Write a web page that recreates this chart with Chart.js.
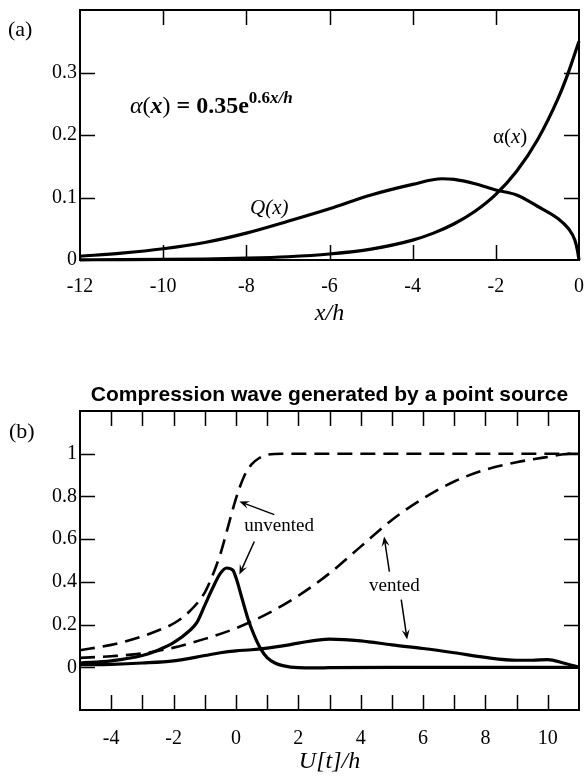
<!DOCTYPE html>
<html>
<head>
<meta charset="utf-8">
<script src="https://cdn.jsdelivr.net/npm/chart.js@4/dist/chart.umd.min.js"></script>
<style>
  body { margin: 0; background: #fff; }
  #wrapA { position: absolute; left: 0; top: 0; width: 584px; height: 330px; }
  #wrapB { position: absolute; left: 0; top: 380px; width: 584px; height: 396px; }
</style>
</head>
<body>
<div id="wrapA"><canvas id="chartA" width="584" height="330"></canvas></div>
<div id="wrapB"><canvas id="chartB" width="584" height="396"></canvas></div>
<script>
// ---- panel (a) data ----
var alphaX = [-12, -11, -10, -9, -8, -7, -6, -5, -4, -3.5, -3, -2.5, -2, -1.5, -1, -0.5, -0.25, 0];
var alphaY = [0.0003, 0.0005, 0.0009, 0.0016, 0.0029, 0.0052, 0.0096, 0.0174, 0.0318, 0.043, 0.058, 0.078, 0.105, 0.142, 0.192, 0.259, 0.301, 0.35];
var qX = [-12, -11, -10, -9, -8, -7, -6, -5, -4, -3.3, -3, -2.5, -2, -1.5, -1, -0.5, -0.25, -0.1, -0.04, 0];
var qY = [0.006, 0.011, 0.018, 0.028, 0.043, 0.062, 0.082, 0.104, 0.121, 0.13, 0.129, 0.122, 0.112, 0.104, 0.086, 0.066, 0.05, 0.032, 0.016, 0];
var xTicksA = [-12, -10, -8, -6, -4, -2, 0];
var yTicksA = [0, 0.1, 0.2, 0.3];

// ---- panel (b) data ----
var unvDashX = [-5, -4, -3, -2.5, -2, -1.5, -1, -0.75, -0.5, -0.25, 0, 0.25, 0.5, 0.75, 1, 1.5, 2, 4, 6, 8, 10, 11];
var unvDashY = [0.08, 0.105, 0.145, 0.172, 0.205, 0.26, 0.35, 0.43, 0.53, 0.66, 0.79, 0.89, 0.95, 0.98, 0.995, 1, 1, 1, 1, 1, 1, 1];
var venDashX = [-5, -4, -3, -2, -1, 0, 1, 2, 3, 4, 5, 6, 7, 8, 9, 10, 10.7, 11];
var venDashY = [0.044, 0.052, 0.065, 0.092, 0.133, 0.183, 0.25, 0.335, 0.44, 0.565, 0.69, 0.79, 0.87, 0.925, 0.96, 0.985, 1, 1];
var unvSolidX = [-5, -4, -3, -2.5, -2, -1.5, -1.25, -1, -0.75, -0.5, -0.3, -0.1, 0, 0.2, 0.4, 0.6, 0.8, 1, 1.25, 1.5, 2, 2.5, 3, 5, 8, 11];
var unvSolidY = [0.02, 0.03, 0.055, 0.08, 0.115, 0.17, 0.21, 0.29, 0.37, 0.44, 0.465, 0.455, 0.42, 0.32, 0.22, 0.145, 0.085, 0.045, 0.02, 0.008, -0.002, -0.003, -0.002, 0, 0, 0];
var venSolidX = [-5, -4, -3, -2, -1, -0.5, 0, 0.5, 1, 1.5, 2, 3, 4, 5, 6, 7, 8, 9, 9.5, 10, 10.5, 11];
var venSolidY = [0.012, 0.014, 0.02, 0.03, 0.055, 0.068, 0.077, 0.082, 0.09, 0.1, 0.113, 0.132, 0.124, 0.105, 0.088, 0.068, 0.046, 0.033, 0.033, 0.036, 0.02, 0];
var xLabelsB = [-4, -2, 0, 2, 4, 6, 8, 10];
var yTicksB = [0, 0.2, 0.4, 0.6, 0.8, 1];

function pts(xs, ys) {
    var out = [];
    for (var i = 0; i < xs.length; i++) out.push({x: xs[i], y: ys[i]});
    return out;
}

function fmt(v) {
    var r = Math.round(v * 10) / 10;
    return String(r);
}

var SERIF = "'Liberation Serif', 'Times New Roman', serif";

// inward ticks on all four sides + frame
var framePlugin = {
    id: 'frame',
    afterDraw: function(chart) {
        var ctx = chart.ctx, a = chart.chartArea;
        var sx = chart.scales.x, sy = chart.scales.y;
        var len = 15;
        ctx.save();
        ctx.strokeStyle = '#000';
        ctx.lineWidth = 1.5;
        ctx.beginPath();
        sx.ticks.forEach(function(t) {
            var px = Math.round(sx.getPixelForValue(t.value)) + 0.5;
            if (px < a.left + 2 || px > a.right - 2) return;
            ctx.moveTo(px, a.bottom); ctx.lineTo(px, a.bottom - len);
            ctx.moveTo(px, a.top); ctx.lineTo(px, a.top + len);
        });
        sy.ticks.forEach(function(t) {
            var py = Math.round(sy.getPixelForValue(t.value)) + 0.5;
            if (py < a.top + 2 || py > a.bottom - 2) return;
            ctx.moveTo(a.left, py); ctx.lineTo(a.left + len, py);
            ctx.moveTo(a.right, py); ctx.lineTo(a.right - len, py);
        });
        ctx.stroke();
        ctx.lineWidth = 2;
        ctx.strokeRect(a.left, a.top, a.right - a.left, a.bottom - a.top);
        ctx.restore();
    }
};

// draws a row of text pieces with different fonts
function richText(ctx, x, y, parts) {
    parts.forEach(function(p) {
        ctx.font = p.font;
        ctx.fillText(p.t, x, y - (p.dy || 0));
        x += ctx.measureText(p.t).width;
    });
}

function arrow(ctx, x1, y1, x2, y2) {
    var ang = Math.atan2(y2 - y1, x2 - x1);
    var hl = 10, hw = 4;
    ctx.beginPath();
    ctx.moveTo(x1, y1);
    ctx.lineTo(x2 - Math.cos(ang) * hl * 0.6, y2 - Math.sin(ang) * hl * 0.6);
    ctx.stroke();
    ctx.beginPath();
    ctx.moveTo(x2, y2);
    ctx.lineTo(x2 - Math.cos(ang) * hl - Math.sin(ang) * hw, y2 - Math.sin(ang) * hl + Math.cos(ang) * hw);
    ctx.lineTo(x2 - Math.cos(ang) * hl * 0.6, y2 - Math.sin(ang) * hl * 0.6);
    ctx.lineTo(x2 - Math.cos(ang) * hl + Math.sin(ang) * hw, y2 - Math.sin(ang) * hl - Math.cos(ang) * hw);
    ctx.closePath();
    ctx.fill();
}

var notesA = {
    id: 'notesA',
    afterDraw: function(chart) {
        var ctx = chart.ctx, sx = chart.scales.x, sy = chart.scales.y, a = chart.chartArea;
        ctx.save();
        ctx.fillStyle = '#000';
        ctx.textBaseline = 'alphabetic';
        ctx.textAlign = 'left';
        richText(ctx, a.left - 72, 36, [{t: '(a)', font: '22px ' + SERIF}]);
        richText(ctx, sx.getPixelForValue(-10.8), sy.getPixelForValue(0.236), [
            {t: '\u03b1', font: 'italic 24px ' + SERIF},
            {t: '(', font: '24px ' + SERIF},
            {t: 'x', font: 'italic bold 24px ' + SERIF},
            {t: ')', font: '24px ' + SERIF},
            {t: ' = 0.35e', font: 'bold 24px ' + SERIF},
            {t: '0.6', font: 'bold 17px ' + SERIF, dy: 10},
            {t: 'x/h', font: 'italic bold 17px ' + SERIF, dy: 10}
        ]);
        richText(ctx, sx.getPixelForValue(-7.91), sy.getPixelForValue(0.074), [
            {t: 'Q(x)', font: 'italic 21px ' + SERIF}
        ]);
        richText(ctx, sx.getPixelForValue(-2.07), sy.getPixelForValue(0.188), [
            {t: '\u03b1(', font: '21px ' + SERIF},
            {t: 'x', font: 'italic 21px ' + SERIF},
            {t: ')', font: '21px ' + SERIF}
        ]);
        ctx.restore();
    }
};

var notesB = {
    id: 'notesB',
    afterDraw: function(chart) {
        var ctx = chart.ctx, sx = chart.scales.x, sy = chart.scales.y, a = chart.chartArea;
        function P(x, y) { return [sx.getPixelForValue(x), sy.getPixelForValue(y)]; }
        ctx.save();
        ctx.fillStyle = '#000';
        ctx.strokeStyle = '#000';
        ctx.lineWidth = 1.5;
        ctx.textAlign = 'center';
        ctx.textBaseline = 'middle';
        ctx.font = "bold 21px 'Liberation Sans', Arial, sans-serif";
        ctx.fillText('Compression wave generated by a point source', (a.left + a.right) / 2, a.top - 16);
        ctx.textAlign = 'left';
        ctx.textBaseline = 'alphabetic';
        richText(ctx, a.left - 71, a.top + 27, [{t: '(b)', font: '22px ' + SERIF}]);
        var p = P(0.27, 0.637);
        richText(ctx, p[0], p[1], [{t: 'unvented', font: '19px ' + SERIF}]);
        p = P(4.27, 0.356);
        richText(ctx, p[0], p[1], [{t: 'vented', font: '19px ' + SERIF}]);
        var arrows = [
            [1.23, 0.715, 0.11, 0.776],
            [0.59, 0.589, 0.11, 0.434],
            [4.92, 0.448, 4.75, 0.612],
            [5.3, 0.317, 5.49, 0.13]
        ];
        arrows.forEach(function(r) {
            var t = P(r[0], r[1]), h = P(r[2], r[3]);
            arrow(ctx, t[0], t[1], h[0], h[1]);
        });
        ctx.restore();
    }
};

var tickFont = {family: SERIF, size: 20};

function lineSet(data, dashed) {
    return {
        data: data,
        borderColor: '#000',
        borderWidth: dashed ? 2.6 : 3.2,
        borderDash: dashed ? [15, 8] : [],
        pointRadius: 0,
        fill: false,
        cubicInterpolationMode: 'monotone',
        clip: false
    };
}

function noPadX(h) {
    return function(s) { s.height = h; s.paddingLeft = 0; s.paddingRight = 0; };
}
function noPadY(s) { s.width = 80; s.paddingTop = 0; s.paddingBottom = 0; }

new Chart(document.getElementById('chartA'), {
    type: 'line',
    data: {
        datasets: [lineSet(pts(alphaX, alphaY), false), lineSet(pts(qX, qY), false)]
    },
    options: {
        responsive: false,
        animation: false,
        layout: {padding: {top: 10, right: 5, left: 0, bottom: 0}},
        plugins: {legend: {display: false}, tooltip: {enabled: false}},
        scales: {
            x: {
                type: 'linear', min: -12, max: 0,
                afterBuildTicks: function(s) { s.ticks = xTicksA.map(function(v) { return {value: v}; }); },
                ticks: {font: tickFont, color: '#000', padding: 15, maxRotation: 0, callback: function(v) { return String(v); }},
                grid: {display: false, drawTicks: false},
                border: {display: false},
                title: {display: true, text: 'x/h', color: '#000', font: {family: SERIF, size: 24, style: 'italic'}, padding: {top: 0, bottom: 2}},
                afterFit: noPadX(70)
            },
            y: {
                type: 'linear', min: 0, max: 0.4,
                afterBuildTicks: function(s) { s.ticks = yTicksA.concat([0.4]).map(function(v) { return {value: v}; }); },
                ticks: {font: tickFont, color: '#000', padding: 3, callback: function(v) { return v > 0.35 ? '' : fmt(v); }},
                grid: {display: false, drawTicks: false},
                border: {display: false},
                afterFit: noPadY
            }
        }
    },
    plugins: [framePlugin, notesA]
});

new Chart(document.getElementById('chartB'), {
    type: 'line',
    data: {
        datasets: [
            lineSet(pts(unvDashX, unvDashY), true),
            lineSet(pts(venDashX, venDashY), true),
            lineSet(pts(unvSolidX, unvSolidY), false),
            lineSet(pts(venSolidX, venSolidY), false)
        ]
    },
    options: {
        responsive: false,
        animation: false,
        layout: {padding: {top: 31, right: 5, left: 0, bottom: 0}},
        plugins: {legend: {display: false}, tooltip: {enabled: false}},
        scales: {
            x: {
                type: 'linear', min: -5, max: 11,
                ticks: {font: tickFont, color: '#000', padding: 17, stepSize: 1, autoSkip: false, maxRotation: 0,
                    callback: function(v) { return xLabelsB.indexOf(v) >= 0 ? String(v) : ''; }},
                grid: {display: false, drawTicks: false},
                border: {display: false},
                title: {display: true, text: 'U[t]/h', color: '#000', font: {family: SERIF, size: 24, style: 'italic'}, padding: {top: 0, bottom: 0}},
                afterFit: noPadX(66)
            },
            y: {
                type: 'linear', min: -0.2, max: 1.2,
                afterBuildTicks: function(s) { s.ticks = [-0.2].concat(yTicksB, [1.2]).map(function(v) { return {value: v}; }); },
                ticks: {font: tickFont, color: '#000', padding: 3, callback: function(v) { return (v < -0.1 || v > 1.1) ? '' : fmt(v); }},
                grid: {display: false, drawTicks: false},
                border: {display: false},
                afterFit: noPadY
            }
        }
    },
    plugins: [framePlugin, notesB]
});
</script>
</body>
</html>
